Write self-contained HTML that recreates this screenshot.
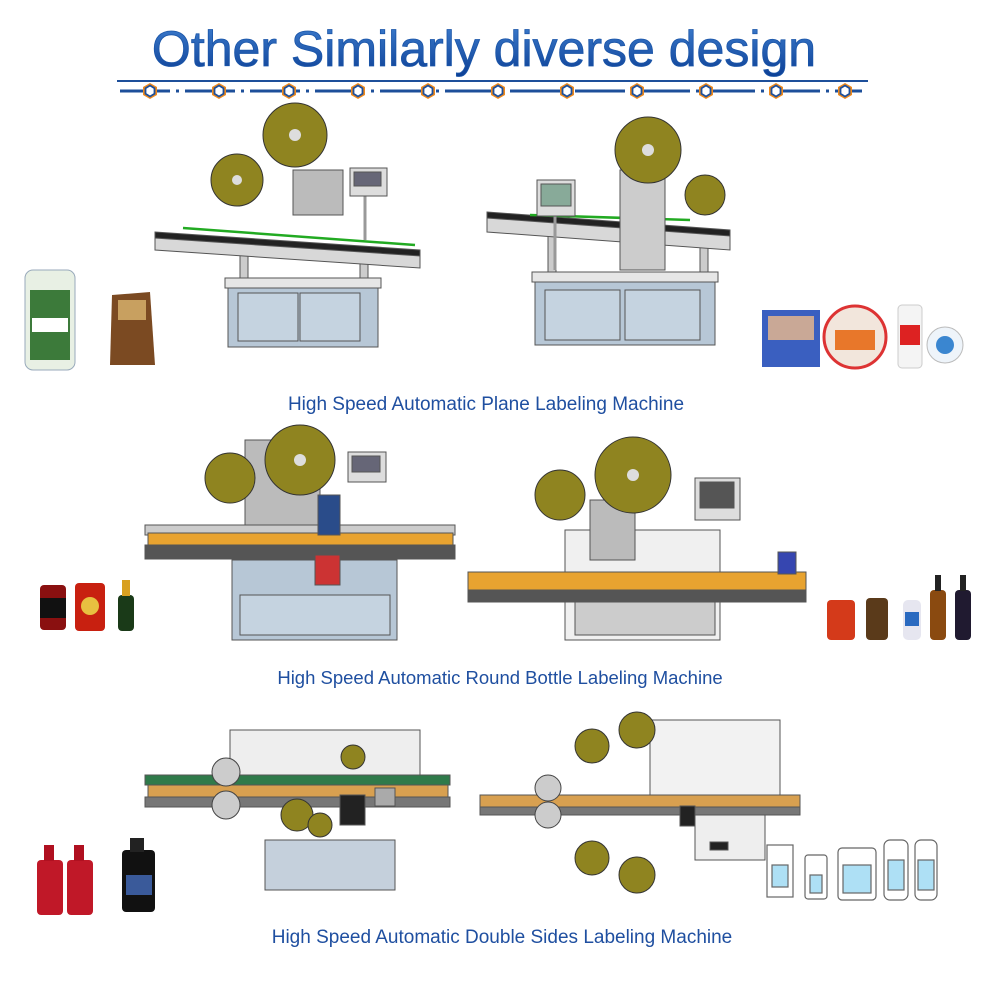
<!DOCTYPE html>
<html><head><meta charset="utf-8"><style>
html,body{margin:0;padding:0;background:#fff;width:1000px;height:1000px;overflow:hidden}
svg{display:block}
</style></head><body>
<svg width="1000" height="1000" viewBox="0 0 1000 1000" xmlns="http://www.w3.org/2000/svg">
<defs>
<linearGradient id="tg" x1="0" y1="0" x2="0" y2="1"><stop offset="0" stop-color="#3f7fd0"/><stop offset="1" stop-color="#0c3f95"/></linearGradient>
<g id="ico"><polygon points="0,-8 7,-4 7,4 0,8 -7,4 -7,-4" fill="#f08a1c"/><polygon points="0,-5.5 4.5,-2.8 4.5,2.8 0,5.5 -4.5,2.8 -4.5,-2.8" fill="#fff" stroke="#1d4f9a" stroke-width="1.8"/></g>
</defs>
<!-- title -->
<text x="484" y="66" text-anchor="middle" font-family="Liberation Sans, sans-serif" font-size="50" fill="url(#tg)" stroke="#1a55a8" stroke-width="0.8">Other Similarly diverse design</text>
<line x1="117" y1="81" x2="868" y2="81" stroke="#1d4f9a" stroke-width="2"/>
<line x1="120" y1="91" x2="862" y2="91" stroke="#1d4f9a" stroke-width="3" stroke-dasharray="50 6 3 6"/>
<g>
<use href="#ico" x="150" y="91"/><use href="#ico" x="219" y="91"/><use href="#ico" x="289" y="91"/><use href="#ico" x="358" y="91"/><use href="#ico" x="428" y="91"/><use href="#ico" x="498" y="91"/><use href="#ico" x="567" y="91"/><use href="#ico" x="637" y="91"/><use href="#ico" x="706" y="91"/><use href="#ico" x="776" y="91"/><use href="#ico" x="845" y="91"/>
</g>

<!-- ROW 1 machine A -->
<g stroke="#555" stroke-width="1">
<rect x="240" y="255" width="8" height="35" fill="#ccc"/><rect x="360" y="262" width="8" height="30" fill="#ccc"/>
<rect x="228" y="285" width="150" height="62" fill="#b7c7d6"/>
<rect x="238" y="293" width="60" height="48" fill="#c5d3e0"/><rect x="300" y="293" width="60" height="48" fill="#c5d3e0"/>
<rect x="225" y="278" width="156" height="10" fill="#e6e6e6"/>
<polygon points="155,235 420,255 420,268 155,250" fill="#d8d8d8"/>
<polygon points="155,232 420,250 420,256 155,238" fill="#222"/>
<line x1="183" y1="228" x2="415" y2="245" stroke="#2a2" stroke-width="2.5"/>
<rect x="293" y="170" width="50" height="45" fill="#bbb"/>
<line x1="365" y1="195" x2="365" y2="240" stroke="#999" stroke-width="3"/>
<rect x="350" y="168" width="37" height="28" fill="#ddd"/><rect x="354" y="172" width="27" height="14" fill="#667"/>
</g>
<circle cx="295" cy="135" r="32" fill="#8f8420" stroke="#333"/><circle cx="295" cy="135" r="6" fill="#ddd"/>
<circle cx="237" cy="180" r="26" fill="#8f8420" stroke="#333"/><circle cx="237" cy="180" r="5" fill="#ddd"/>
<!-- row1 machine B -->
<g stroke="#555" stroke-width="1">
<rect x="548" y="235" width="8" height="45" fill="#ccc"/><rect x="700" y="245" width="8" height="35" fill="#ccc"/>
<rect x="535" y="280" width="180" height="65" fill="#b7c7d6"/>
<rect x="545" y="290" width="75" height="50" fill="#c5d3e0"/><rect x="625" y="290" width="75" height="50" fill="#c5d3e0"/>
<rect x="532" y="272" width="186" height="10" fill="#e6e6e6"/>
<polygon points="487,215 730,235 730,250 487,232" fill="#d8d8d8"/>
<polygon points="487,212 730,230 730,236 487,218" fill="#222"/>
<line x1="530" y1="215" x2="690" y2="220" stroke="#2a2" stroke-width="2.5"/>
<rect x="620" y="170" width="45" height="100" fill="#ccc"/>
<line x1="555" y1="215" x2="555" y2="270" stroke="#999" stroke-width="3"/>
<rect x="537" y="180" width="38" height="36" fill="#ddd"/><rect x="541" y="184" width="30" height="22" fill="#8a9"/>
</g>
<circle cx="648" cy="150" r="33" fill="#8f8420" stroke="#333"/><circle cx="648" cy="150" r="6" fill="#ddd"/>
<circle cx="705" cy="195" r="20" fill="#8f8420" stroke="#333"/>
<!-- row1 products -->
<rect x="25" y="270" width="50" height="100" rx="8" fill="#e8f0e4" stroke="#9ab"/><rect x="30" y="290" width="40" height="70" fill="#3c7a3a"/><rect x="32" y="318" width="36" height="14" fill="#fff"/>
<path d="M112 295 L150 292 L155 365 L110 365 Z" fill="#7b4a22"/><rect x="118" y="300" width="28" height="20" fill="#c8a060"/>
<rect x="762" y="310" width="58" height="57" fill="#3a5fc0"/><rect x="768" y="316" width="46" height="24" fill="#c9a896"/>
<circle cx="855" cy="337" r="31" fill="#f2e6dc" stroke="#d33" stroke-width="3"/><rect x="835" y="330" width="40" height="20" fill="#e8772a"/>
<rect x="898" y="305" width="24" height="63" rx="4" fill="#f4f4f4" stroke="#ccc"/><rect x="900" y="325" width="20" height="20" fill="#d22"/>
<circle cx="945" cy="345" r="18" fill="#eef4fa" stroke="#bbb"/><circle cx="945" cy="345" r="9" fill="#3a86d0"/>
<text x="486" y="410" text-anchor="middle" font-family="Liberation Sans, sans-serif" font-size="19" fill="#1f4fa0">High Speed Automatic Plane Labeling Machine</text>

<!-- ROW 2 machine A -->
<g stroke="#555" stroke-width="1">
<rect x="232" y="560" width="165" height="80" fill="#b7c7d6"/>
<rect x="240" y="595" width="150" height="40" fill="#c5d3e0"/>
<rect x="145" y="525" width="310" height="10" fill="#ccc"/>
<rect x="148" y="533" width="305" height="14" fill="#e8a330"/>
<rect x="145" y="545" width="310" height="14" fill="#555"/>
<rect x="245" y="440" width="75" height="85" fill="#bbb"/>
<rect x="318" y="495" width="22" height="40" fill="#2a4c8a"/>
<rect x="348" y="452" width="38" height="30" fill="#ddd"/><rect x="352" y="456" width="28" height="16" fill="#667"/>
<rect x="315" y="555" width="25" height="30" fill="#c33"/>
</g>
<circle cx="300" cy="460" r="35" fill="#8f8420" stroke="#333"/><circle cx="300" cy="460" r="6" fill="#ddd"/>
<circle cx="230" cy="478" r="25" fill="#8f8420" stroke="#333"/>
<!-- row2 machine B -->
<g stroke="#555" stroke-width="1">
<rect x="565" y="530" width="155" height="110" fill="#f0f0f0"/>
<rect x="575" y="600" width="140" height="35" fill="#ccc"/>
<rect x="468" y="572" width="338" height="20" fill="#e8a330"/>
<rect x="468" y="590" width="338" height="12" fill="#555"/>
<rect x="590" y="500" width="45" height="60" fill="#bbb"/>
<rect x="695" y="478" width="45" height="42" fill="#ddd"/><rect x="700" y="482" width="34" height="26" fill="#555"/>
<rect x="778" y="552" width="18" height="22" fill="#3646b0"/>
</g>
<circle cx="633" cy="475" r="38" fill="#8f8420" stroke="#333"/><circle cx="633" cy="475" r="6" fill="#ddd"/>
<circle cx="560" cy="495" r="25" fill="#8f8420" stroke="#333"/>
<!-- row2 products -->
<rect x="40" y="585" width="26" height="45" rx="4" fill="#8a1010"/><rect x="40" y="598" width="26" height="20" fill="#111"/>
<rect x="75" y="583" width="30" height="48" rx="4" fill="#c82010"/><circle cx="90" cy="606" r="9" fill="#e8c040"/>
<rect x="118" y="595" width="16" height="36" rx="4" fill="#1a3a18"/><rect x="122" y="580" width="8" height="16" fill="#d8a020"/>
<rect x="827" y="600" width="28" height="40" rx="4" fill="#d43a1a"/>
<rect x="866" y="598" width="22" height="42" rx="4" fill="#5a3a1a"/>
<rect x="903" y="600" width="18" height="40" rx="5" fill="#e6e6f0"/><rect x="905" y="612" width="14" height="14" fill="#2a6ac0"/>
<rect x="930" y="590" width="16" height="50" rx="4" fill="#8a4a10"/><rect x="935" y="575" width="6" height="16" fill="#222"/>
<rect x="955" y="590" width="16" height="50" rx="4" fill="#201a30"/><rect x="960" y="575" width="6" height="16" fill="#222"/>
<text x="500" y="684" text-anchor="middle" font-family="Liberation Sans, sans-serif" font-size="18.5" fill="#1f4fa0">High Speed Automatic Round Bottle Labeling Machine</text>

<!-- ROW 3 machine A -->
<g stroke="#555" stroke-width="1">
<rect x="265" y="840" width="130" height="50" fill="#c5d0dc"/>
<rect x="230" y="730" width="190" height="50" fill="#eee"/>
<rect x="145" y="775" width="305" height="10" fill="#2f7a4a"/>
<rect x="148" y="785" width="300" height="12" fill="#d8a050"/>
<rect x="145" y="797" width="305" height="10" fill="#777"/>
<rect x="340" y="795" width="25" height="30" fill="#222"/>
<rect x="375" y="788" width="20" height="18" fill="#aaa"/>
</g>
<circle cx="226" cy="772" r="14" fill="#ccc" stroke="#444"/><circle cx="226" cy="805" r="14" fill="#ccc" stroke="#444"/>
<circle cx="297" cy="815" r="16" fill="#8f8420" stroke="#333"/><circle cx="320" cy="825" r="12" fill="#8f8420" stroke="#333"/>
<circle cx="353" cy="757" r="12" fill="#8f8420" stroke="#333"/>
<!-- row3 machine B -->
<g stroke="#555" stroke-width="1">
<rect x="650" y="720" width="130" height="80" fill="#f2f2f2"/>
<rect x="480" y="795" width="320" height="12" fill="#d8a050"/>
<rect x="480" y="807" width="320" height="8" fill="#777"/>
<rect x="695" y="815" width="70" height="45" fill="#eee"/><rect x="710" y="842" width="18" height="8" fill="#222"/>
<rect x="680" y="806" width="15" height="20" fill="#222"/>
</g>
<circle cx="548" cy="788" r="13" fill="#ccc" stroke="#444"/><circle cx="548" cy="815" r="13" fill="#ccc" stroke="#444"/>
<circle cx="637" cy="730" r="18" fill="#8f8420" stroke="#333"/><circle cx="592" cy="746" r="17" fill="#8f8420" stroke="#333"/>
<circle cx="592" cy="858" r="17" fill="#8f8420" stroke="#333"/><circle cx="637" cy="875" r="18" fill="#8f8420" stroke="#333"/>
<!-- row3 products -->
<rect x="37" y="860" width="26" height="55" rx="4" fill="#c01828"/><rect x="44" y="845" width="10" height="16" fill="#b01020"/>
<rect x="67" y="860" width="26" height="55" rx="4" fill="#c01828"/><rect x="74" y="845" width="10" height="16" fill="#b01020"/>
<rect x="122" y="850" width="33" height="62" rx="4" fill="#111"/><rect x="130" y="838" width="14" height="14" fill="#222"/><rect x="126" y="875" width="26" height="20" fill="#3a5a9a"/>
<g fill="#fff" stroke="#666" stroke-width="1.2">
<rect x="767" y="845" width="26" height="52"/><rect x="772" y="865" width="16" height="22" fill="#aee0f5"/>
<rect x="805" y="855" width="22" height="44" rx="3"/><rect x="810" y="875" width="12" height="18" fill="#aee0f5"/>
<rect x="838" y="848" width="38" height="52" rx="4"/><rect x="843" y="865" width="28" height="28" fill="#aee0f5"/>
<rect x="884" y="840" width="24" height="60" rx="6"/><rect x="888" y="860" width="16" height="30" fill="#aee0f5"/>
<rect x="915" y="840" width="22" height="60" rx="6"/><rect x="918" y="860" width="16" height="30" fill="#aee0f5"/>
</g>
<text x="502" y="943" text-anchor="middle" font-family="Liberation Sans, sans-serif" font-size="19" fill="#1f4fa0">High Speed Automatic Double Sides Labeling Machine</text>
</svg>
</body></html>
